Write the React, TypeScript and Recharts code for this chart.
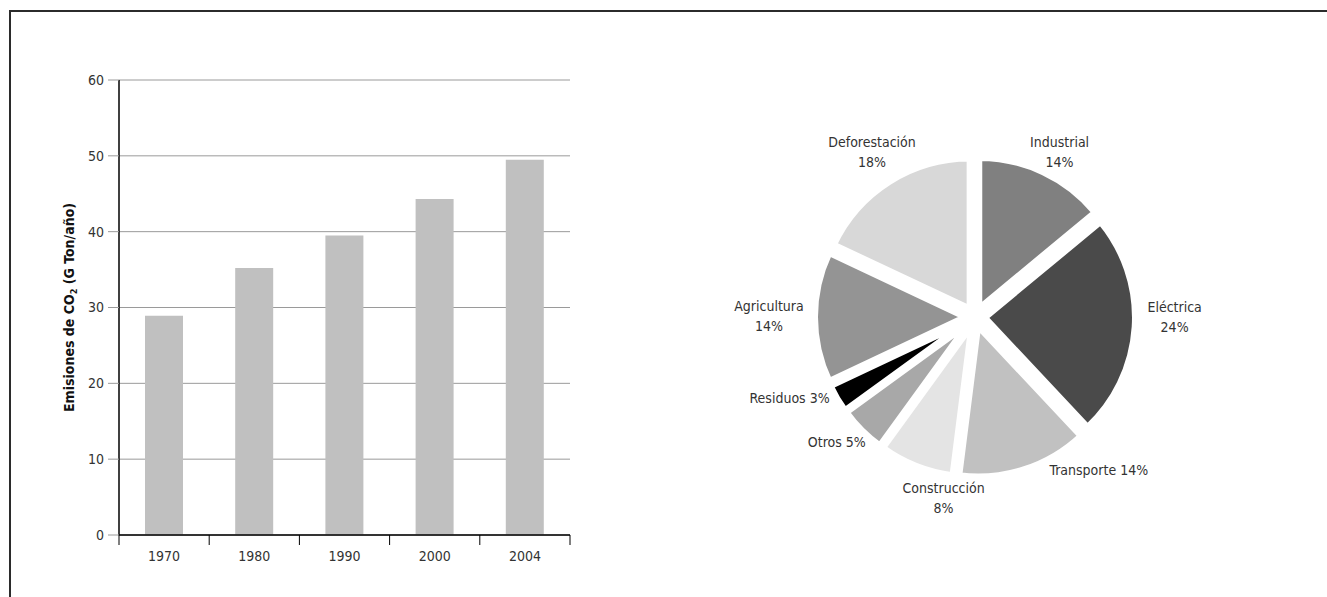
import { BarChart, Bar, XAxis, YAxis, CartesianGrid, PieChart, Pie, Cell, Sector } from 'recharts'

const years = ['1970', '1980', '1990', '2000', '2004']
const emissions = [28.9, 35.2, 39.5, 44.3, 49.5]
const yTicks = [0, 10, 20, 30, 40, 50, 60]

const sectors = ['Industrial', 'Eléctrica', 'Transporte', 'Construcción', 'Otros', 'Residuos', 'Agricultura', 'Deforestación']
const shares = [14, 24, 14, 8, 5, 3, 14, 18]
const shades = ['#808080', '#4a4a4a', '#c1c1c1', '#e4e4e4', '#a8a8a8', '#000000', '#949494', '#d8d8d8']

const barData = years.map((year, i) => ({ year, value: emissions[i] }))
const pieData = sectors.map((name, i) => ({ name, value: shares[i] }))

const FONT = "'Liberation Sans Narrow', 'DejaVu Sans Condensed', 'Roboto Condensed', Roboto, sans-serif"
const TEXT = '#333'
const RAD = Math.PI / 180
const EXPLODE = 10
// these sit on one line next to the slice, the rest get name over percent
const INLINE = new Set(['Transporte', 'Otros', 'Residuos'])
// hand tweaks so the labels sit roughly where the original layout put them
const LABEL_NUDGE: Record<string, [number, number]> = {
  Industrial: [2, 11],
  Deforestación: [1, -1],
  Eléctrica: [6, -12],
  Agricultura: [-12, -1],
  Construcción: [40, 1],
  Transporte: [22, -9],
  Otros: [11, 5],
  Residuos: [1, -6],
}

function YearTick(props: any) {
  const { x, y, payload, index, visibleTicksCount } = props
  const half = payload?.offset ?? 0
  const top = y - 16
  const last = index === visibleTicksCount - 1
  return (
    <g>
      <line x1={x - half} x2={x - half} y1={top} y2={top + 10} stroke="#000" />
      {last && <line x1={x + half} x2={x + half} y1={top} y2={top + 10} stroke="#000" />}
      <text x={x} y={y} dy="0.71em" textAnchor="middle" fill={TEXT} fontSize={14} fontFamily={FONT}>
        {payload.value}
      </text>
    </g>
  )
}

function YTitle(props: any) {
  const { x, y, height } = props.viewBox
  const cx = x + 10
  const cy = y + height / 2
  return (
    <text
      x={cx}
      y={cy}
      transform={`rotate(-90 ${cx} ${cy})`}
      textAnchor="middle"
      dominantBaseline="central"
      fontWeight="bold"
      fontSize={14}
      fill="#111"
      fontFamily={FONT}
    >
      Emisiones de CO<tspan baselineShift="sub" fontSize={9}>2</tspan> (G Ton/año)
    </text>
  )
}

function ExplodedSlice(props: any) {
  const { cx, cy, midAngle } = props
  const dx = Math.cos(-midAngle * RAD) * EXPLODE
  const dy = Math.sin(-midAngle * RAD) * EXPLODE
  return <Sector {...props} cx={cx + dx} cy={cy + dy} />
}

function SliceLabel(props: any) {
  const { cx, cy, midAngle, outerRadius, value } = props
  const name = props.name ?? props.payload?.name
  const inline = INLINE.has(name)
  const cos = Math.cos(-midAngle * RAD)
  const sin = Math.sin(-midAngle * RAD)
  const r = outerRadius + EXPLODE + (inline ? 10 : 34)
  const [nx, ny] = LABEL_NUDGE[name] ?? [0, 0]
  const x = cx + r * cos + nx
  const y = cy + r * sin + ny
  const common = { fill: TEXT, fontSize: 14, fontFamily: FONT, dominantBaseline: 'central' as const }
  if (inline) {
    return (
      <text x={x} y={y} textAnchor={cos >= 0 ? 'start' : 'end'} {...common}>
        {name} {value}%
      </text>
    )
  }
  return (
    <g>
      <text x={x} y={y - 10} textAnchor="middle" {...common}>
        {name}
      </text>
      <text x={x} y={y + 10} textAnchor="middle" {...common}>
        {value}%
      </text>
    </g>
  )
}

export default function App() {
  return (
    <div style={{ position: 'absolute', left: 0, top: 0, width: 1327, height: 597, background: '#fff', overflow: 'hidden', fontFamily: FONT }}>
      <div
        style={{
          position: 'absolute',
          left: 9,
          top: 10,
          right: 0,
          bottom: 0,
          borderTop: '2px solid #2b2b2b',
          borderLeft: '2px solid #2b2b2b',
        }}
      />
      <div style={{ position: 'absolute', left: 0, top: 0 }}>
        <BarChart width={600} height={597} data={barData} margin={{ top: 80, right: 30, bottom: 32, left: 59 }}>
          <CartesianGrid vertical={false} stroke="#9a9a9a" />
          <XAxis
            dataKey="year"
            height={30}
            tickLine={false}
            tickSize={0}
            tickMargin={16}
            axisLine={{ stroke: '#000', strokeWidth: 1.5 }}
            tick={<YearTick />}
            interval={0}
          />
          <YAxis
            width={60}
            domain={[0, 60]}
            ticks={yTicks}
            tickSize={11}
            tickMargin={4}
            tickLine={{ stroke: '#9a9a9a' }}
            axisLine={{ stroke: '#000', strokeWidth: 1.5 }}
            tick={{ fill: TEXT, fontSize: 14, fontFamily: FONT }}
            label={<YTitle />}
          />
          <Bar dataKey="value" fill="#c0c0c0" barSize={38} isAnimationActive={false} />
        </BarChart>
      </div>
      <div style={{ position: 'absolute', left: 620, top: 0 }}>
        <PieChart width={707} height={597}>
          <Pie
            data={pieData}
            dataKey="value"
            nameKey="name"
            cx={350}
            cy={312}
            outerRadius={150}
            startAngle={90}
            endAngle={-270}
            stroke="#fff"
            strokeWidth={6}
            shape={ExplodedSlice}
            label={SliceLabel}
            labelLine={false}
            isAnimationActive={false}
          >
            {pieData.map((d, i) => (
              <Cell key={d.name} fill={shades[i]} />
            ))}
          </Pie>
        </PieChart>
      </div>
    </div>
  )
}
